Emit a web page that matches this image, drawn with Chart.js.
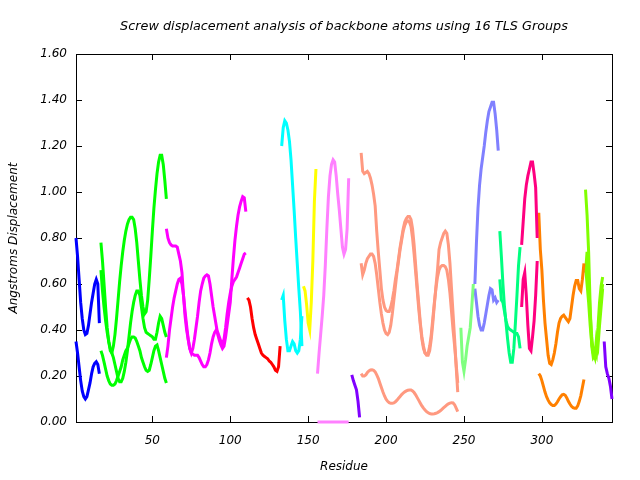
<!DOCTYPE html>
<html>
<head>
<meta charset="utf-8">
<script src="https://cdn.jsdelivr.net/npm/chart.js@4.4.0/dist/chart.umd.min.js"></script>
<style>
  html, body { margin: 0; padding: 0; background: #fff; }
  #chart { display: block; }
</style>
</head>
<body>
<canvas id="chart" width="640" height="480"></canvas>
<script>
// tick positions
const xTicks = [50, 100, 150, 200, 250, 300];
const yMax = 1.6;
const chartTitle = 'Screw displacement analysis of backbone atoms using 16 TLS Groups';

// screw displacement per TLS group, one value per residue from the start residue
const blueStart = 1;
const blueA = [0.80,0.72,0.62,0.52,0.45,0.40,0.38,0.385,0.42,0.47,0.52,0.56,0.60,0.62,0.60,0.43];
const blueB = [0.35,0.30,0.24,0.18,0.135,0.11,0.10,0.11,0.14,0.17,0.21,0.24,0.255,0.262,0.25,0.21];

const greenStart = 17;
const greenA = [0.78,0.70,0.60,0.50,0.41,0.35,0.31,0.30,0.33,0.38,
  0.45,0.53,0.61,0.68,0.74,0.79,0.83,0.86,0.88,0.89,
  0.89,0.88,0.84,0.78,0.70,0.62,0.55,0.50,0.47,0.48,
  0.53,0.62,0.72,0.83,0.93,1.01,1.08,1.13,1.16,1.16,
  1.12,1.05,0.97];
const greenB = [0.66,0.57,0.50,0.44,0.39,0.35,0.32,0.30,0.28,0.25,
  0.22,0.19,0.175,0.175,0.19,0.22,0.26,0.31,0.37,0.43,
  0.48,0.52,0.55,0.57,0.57,0.55,0.50,0.45,0.41,0.39,
  0.385,0.38,0.375,0.37,0.36,0.36,0.39,0.43,0.46,0.45,
  0.42,0.39,0.37];
const greenC = [0.31,0.29,0.26,0.23,0.20,0.18,0.165,0.16,0.16,0.165,
  0.18,0.20,0.22,0.24,0.27,0.29,0.31,0.32,0.34,0.36,
  0.37,0.37,0.365,0.35,0.33,0.31,0.28,0.26,0.24,0.225,
  0.22,0.225,0.25,0.28,0.31,0.33,0.335,0.31,0.28,0.25,
  0.22,0.19,0.17];

const magentaStart = 59;
const magentaA = [0.84,0.80,0.78,0.77,0.765,0.765,0.765,0.76,0.73,0.70,
  0.65,0.55,0.46,0.40,0.36,0.32,0.30,0.295,0.29,0.29,
  0.29,0.28,0.265,0.25,0.24,0.24,0.25,0.27,0.30,0.34,
  0.37,0.39,0.40,0.39,0.37,0.35,0.34,0.36,0.41,0.47,
  0.52,0.56,0.59,0.61,0.62,0.63,0.65,0.67,0.69,0.71,
  0.73,0.735];
const magentaB = [0.28,0.33,0.40,0.45,0.50,0.54,0.57,0.60,0.62,0.625,
  0.60,0.55,0.48,0.42,0.36,0.32,0.30,0.32,0.36,0.41,
  0.46,0.52,0.57,0.60,0.625,0.635,0.64,0.635,0.60,0.55,
  0.50,0.46,0.42,0.38,0.355,0.335,0.32,0.33,0.37,0.42,
  0.47,0.52,0.62,0.71,0.79,0.85,0.90,0.935,0.96,0.98,
  0.975,0.915];

const redStart = 111;
const redA = [0.54,0.53,0.50,0.45,0.41,0.38,0.36,0.34,0.32,0.30,
  0.29,0.285,0.28,0.275,0.265,0.26,0.25,0.24,0.225,0.22,
  0.24,0.33];

const cyanStart = 133;
const cyanA = [1.20,1.28,1.31,1.30,1.27,1.22,1.14,1.03,0.92,0.80,0.69,0.58,0.48,0.33];
const cyanB = [0.53,0.55,0.44,0.36,0.31,0.31,0.33,0.35,0.34,0.31,0.30,0.31,0.36,0.46];

const yellowStart = 147;
const yellowA = [0.59,0.57,0.51,0.43,0.40,0.52,0.70,0.96,1.10];

const pinkStart = 156;
const pinkA = [0.21,0.30,0.38,0.46,0.55,0.68,0.84,0.98,1.07,1.12,
  1.14,1.13,1.07,0.99,0.92,0.84,0.76,0.73,0.75,0.84,1.06];
const pinkB = [0,0,0,0,0,0,0,0,0,0,0,0,0,0,0,0,0,0,0,0,0];

const violetStart = 178;
const violetA = [0.205,0.18,0.16,0.14,0.09,0.02];

const salmonStart = 184;
const salmonA = [1.17,1.09,1.08,1.085,1.09,1.08,1.06,1.03,0.99,0.94,
  0.83,0.74,0.66,0.58,0.53,0.50,0.485,0.48,0.48,0.50,
  0.53,0.57,0.62,0.66,0.71,0.76,0.80,0.84,0.87,0.885,
  0.893,0.893,0.88,0.84,0.77,0.68,0.59,0.51,0.43,0.37,
  0.33,0.30,0.29,0.29,0.31,0.36,0.43,0.51,0.59,0.66,
  0.75,0.78,0.80,0.82,0.83,0.82,0.77,0.69,0.58,0.47,
  0.36,0.24,0.13];
const salmonB = [0.69,0.64,0.66,0.69,0.71,0.72,0.73,0.73,0.72,0.69,
  0.64,0.58,0.52,0.47,0.43,0.40,0.385,0.38,0.39,0.42,
  0.47,0.53,0.59,0.65,0.70,0.75,0.79,0.83,0.855,0.87,
  0.875,0.87,0.85,0.80,0.73,0.65,0.57,0.49,0.42,0.36,
  0.32,0.30,0.295,0.30,0.33,0.38,0.45,0.52,0.58,0.63,
  0.66,0.675,0.68,0.68,0.675,0.66,0.62,0.56,0.48,0.40,
  0.33,0.25,0.17];
const salmonC = [0.21,0.20,0.20,0.205,0.215,0.222,0.226,0.227,0.225,0.218,
  0.205,0.19,0.17,0.15,0.13,0.113,0.099,0.09,0.084,0.081,
  0.081,0.083,0.088,0.095,0.103,0.111,0.119,0.126,0.131,0.135,
  0.138,0.139,0.139,0.135,0.128,0.118,0.106,0.094,0.082,0.07,
  0.06,0.052,0.045,0.04,0.037,0.035,0.035,0.036,0.038,0.041,
  0.045,0.05,0.056,0.062,0.068,0.074,0.079,0.082,0.084,0.083,
  0.075,0.06,0.045];

const lgreenStart = 248;
const lgreenA = [0.41,0.26,0.22,0.27,0.33,0.37,0.41,0.50,0.60];

const lblueStart = 257;
const lblueA = [0.60,0.78,0.93,1.03,1.10,1.15,1.20,1.26,1.31,1.35,1.37,1.39,1.39,1.34,1.27,1.18];
const lblueB = [0.58,0.52,0.46,0.42,0.40,0.40,0.43,0.47,0.51,0.55,0.58,0.575,0.53,0.54,0.52,0.53];

const springStart = 273;
const springA = [0.83,0.72,0.60,0.50,0.43,0.36,0.30,0.26,0.26,0.32,0.43,0.55,0.68,0.76];
const springB = [0.62,0.53,0.52,0.48,0.44,0.415,0.405,0.40,0.395,0.39,0.385,0.385,0.37,0.32];

const rubyStart = 287;
const rubyA = [0.77,0.87,0.97,1.03,1.07,1.10,1.13,1.13,1.08,1.02,0.80];
const rubyB = [0.50,0.62,0.65,0.55,0.42,0.32,0.31,0.37,0.44,0.55,0.70];

const orangeStart = 298;
const orangeA = [0.91,0.75,0.66,0.53,0.43,0.36,0.29,0.255,0.25,0.27,
  0.30,0.34,0.39,0.43,0.45,0.46,0.465,0.455,0.445,0.436,
  0.45,0.50,0.55,0.59,0.615,0.615,0.58,0.57,0.62,0.69];
const orangeB = [0.21,0.20,0.18,0.155,0.13,0.11,0.095,0.083,0.076,0.072,
  0.072,0.078,0.088,0.10,0.11,0.118,0.12,0.116,0.105,0.09,
  0.078,0.068,0.062,0.06,0.06,0.07,0.09,0.115,0.15,0.185];

const limeStart = 328;
const limeA = [1.01,0.90,0.74,0.50,0.33,0.28,0.29,0.33,0.41,0.52,0.59,0.63];
const limeB = [0.65,0.74,0.62,0.47,0.37,0.30,0.28,0.36,0.33,0.42,0.50,0.58];
const limeC = [0.68,0.60,0.52,0.42,0.34,0.30,0.31,0.29,0.37,0.47,0.55,0.60];

const purpleStart = 340;
const purpleA = [0.35,0.24,0.21,0.19,0.155,0.10];

// groups: start residue, line colour, series
const groups = [
  [blueStart, '#0000ff', [blueA, blueB]],
  [greenStart, '#00ff00', [greenA, greenB, greenC]],
  [magentaStart, '#ff00ff', [magentaA, magentaB]],
  [redStart, '#ff0000', [redA]],
  [cyanStart, '#00ffff', [cyanA, cyanB]],
  [yellowStart, '#ffff00', [yellowA]],
  [pinkStart, '#ff80ff', [pinkA, pinkB]],
  [violetStart, '#8000ff', [violetA]],
  [salmonStart, '#ff9980', [salmonA, salmonB, salmonC]],
  [lgreenStart, '#80ff80', [lgreenA]],
  [lblueStart, '#8080ff', [lblueA, lblueB]],
  [springStart, '#00ff80', [springA, springB]],
  [rubyStart, '#ff0080', [rubyA, rubyB]],
  [orangeStart, '#ff8000', [orangeA, orangeB]],
  [limeStart, '#80ff00', [limeA, limeB, limeC]],
  [purpleStart, '#8000ff', [purpleA]]
];

const datasets = [];
groups.forEach(([start, color, series]) => {
  series.forEach(vals => {
    datasets.push({
      data: vals.map((v, i) => ({ x: start + i, y: v })),
      borderColor: color,
      backgroundColor: color,
      borderWidth: 3,
      pointRadius: 0,
      showLine: true,
      tension: 0,
      clip: 3
    });
  });
});

const font = { family: 'DejaVu Sans', size: 12, style: 'italic', weight: 'normal' };

// gnuplot style frame with inward ticks on all four sides, title centred on the plot
const framePlugin = {
  id: 'frame',
  beforeDatasetsDraw(chart) {
    const { ctx, chartArea: a, scales: { x, y } } = chart;
    ctx.save();
    ctx.strokeStyle = '#000';
    ctx.lineWidth = 1;
    ctx.strokeRect(a.left + 0.5, a.top + 0.5, a.right - a.left, a.bottom - a.top);
    ctx.beginPath();
    xTicks.forEach(v => {
      const px = Math.round(x.getPixelForValue(v)) + 0.5;
      ctx.moveTo(px, a.bottom); ctx.lineTo(px, a.bottom - 6);
      ctx.moveTo(px, a.top); ctx.lineTo(px, a.top + 6);
    });
    y.ticks.forEach(t => {
      const py = Math.round(y.getPixelForValue(t.value)) + 0.5;
      ctx.moveTo(a.left, py); ctx.lineTo(a.left + 6, py);
      ctx.moveTo(a.right, py); ctx.lineTo(a.right - 6, py);
    });
    ctx.stroke();

    ctx.fillStyle = '#000';
    ctx.font = 'italic 12.8px "DejaVu Sans"';
    ctx.textAlign = 'center';
    ctx.textBaseline = 'middle';
    ctx.fillText(chartTitle, (a.left + a.right) / 2, 27);
    ctx.restore();
  }
};

new Chart(document.getElementById('chart'), {
  type: 'scatter',
  data: { datasets },
  options: {
    responsive: false,
    animation: false,
    devicePixelRatio: 1,
    layout: { padding: { left: 0, right: 28, top: 54, bottom: 0 } },
    plugins: {
      legend: { display: false },
      tooltip: { enabled: false },
      title: { display: false }
    },
    scales: {
      x: {
        type: 'linear',
        min: 1,
        max: 345,
        afterBuildTicks: s => { s.ticks = xTicks.map(v => ({ value: v })); },
        afterFit: s => { s.height = 58; },
        grid: { display: false, drawTicks: false },
        border: { display: false },
        ticks: { color: '#000', font: font, padding: 12, maxRotation: 0 },
        title: { display: true, text: 'Residue', color: '#000', font: font, padding: { bottom: 6 } }
      },
      y: {
        min: 0,
        max: yMax,
        afterFit: s => { s.width = 76; },
        grid: { display: false, drawTicks: false },
        border: { display: false },
        ticks: { stepSize: 0.2, color: '#000', font: font, padding: 9, callback: v => v.toFixed(2) },
        title: { display: true, text: 'Angstroms Displacement', color: '#000', font: font, padding: { top: 7 } }
      }
    }
  },
  plugins: [framePlugin]
});
</script>
</body>
</html>
